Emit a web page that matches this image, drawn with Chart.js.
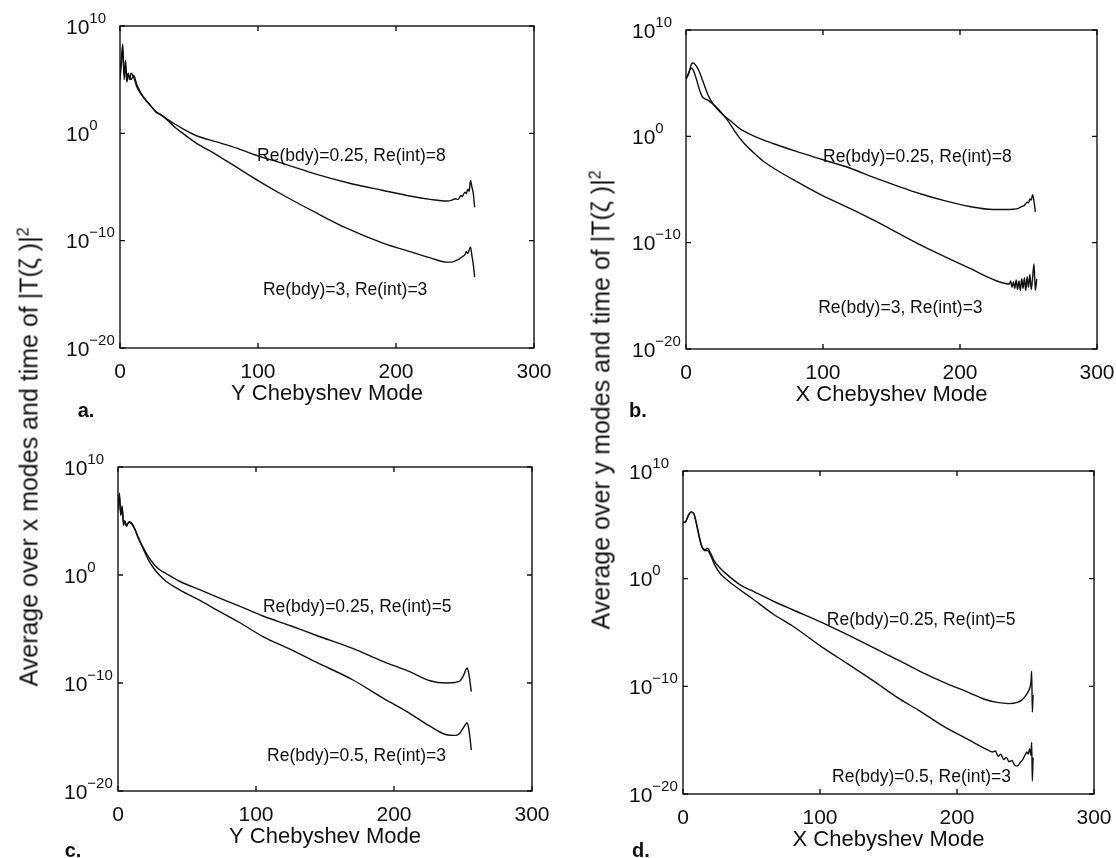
<!DOCTYPE html>
<html>
<head>
<meta charset="utf-8">
<script src="https://cdn.jsdelivr.net/npm/chart.js@4.4.0/dist/chart.umd.min.js"></script>
<style>
html,body{margin:0;padding:0;background:#fff;}
#wrap{position:relative;width:1116px;height:858px;overflow:hidden;background:#fff;}
canvas.panel{position:absolute;left:0;top:0;}
.ytitle{position:absolute;white-space:nowrap;font-family:'Liberation Sans',Arial,Helvetica,sans-serif;font-size:25px;color:#111;transform:translate(-50%,-50%) rotate(-90deg);}
.ytitle sup{font-size:16px;vertical-align:9px;line-height:0;}
.letter{position:absolute;font-family:'Liberation Sans',Arial,sans-serif;font-weight:bold;font-size:20px;color:#111;transform:translate(-50%,-50%);}
</style>
</head>
<body>
<div id="wrap">
<canvas id="ca" class="panel" width="1116" height="858"></canvas>
<canvas id="cb" class="panel" width="1116" height="858"></canvas>
<canvas id="cc" class="panel" width="1116" height="858"></canvas>
<canvas id="cd" class="panel" width="1116" height="858"></canvas>
<div class="ytitle" style="left:29px;top:457px;">Average over x modes and time of |T(ζ )|<sup>2</sup></div>
<div class="ytitle" style="left:601px;top:400px;">Average over y modes and time of |T(ζ )|<sup>2</sup></div>
<div class="letter" style="left:86px;top:410px;">a.</div>
<div class="letter" style="left:638px;top:410px;">b.</div>
<div class="letter" style="left:73px;top:850px;">c.</div>
<div class="letter" style="left:641px;top:850px;">d.</div>
</div>
<script>
// ---------- tick labels ----------
const xTickValues = [0, 100, 200, 300];
const yTickValues = [1e-20, 1e-10, 1, 1e10];
const yTickBase = '10';
const yTickExponents = ['\u221220', '\u221210', '0', '10'];
const xTitleA = 'Y Chebyshev Mode';
const xTitleB = 'X Chebyshev Mode';

// ---------- panel a ----------
const aUpperModes = [0,1,2,3,4,5,6,7,8,10,12,15,18,22,26,30,35,40,46,55,70,85,100,120,142,165,190,212,225,237,240,243,245,247,248,249,250,251,252,253,254,255,256,257];
const aUpperValues = [3.2e5,1e7,2e8,1e5,6.3e6,1.6e5,4e5,1e5,4e5,1.6e5,2.5e4,5e3,1.6e3,400,100,50,18,7,2.5,0.63,0.16,4e-2,8e-3,1.3e-3,1.6e-4,2.5e-5,5e-6,1.3e-6,7e-7,5e-7,5.6e-7,8e-7,7e-7,1.6e-6,1.3e-6,2.2e-6,3.2e-6,2.5e-6,6.3e-6,4e-6,4e-5,1e-5,2.5e-6,1.3e-7];
const aLowerModes = [0,1,2,3,4,5,6,8,10,12,15,18,22,26,30,35,40,46,55,70,85,100,120,142,165,190,212,225,237,240,243,246,248,250,251,252,253,254,255,256,257];
const aLowerValues = [1e5,3.2e6,6.3e7,3.2e5,1e6,6.3e4,2.5e5,1e5,2.5e5,4e4,6.3e3,1.6e3,400,100,50,14,3.5,0.9,0.13,1e-2,6.3e-4,4e-5,1.3e-6,4e-8,1.3e-9,6.3e-11,8e-12,2.5e-12,1e-12,1e-12,1.3e-12,2e-12,3.2e-12,5e-12,1e-11,6.3e-12,1.3e-11,2.5e-11,4e-12,6.3e-13,4e-14];
const aUpperLabel = 'Re(bdy)=0.25, Re(int)=8';
const aLowerLabel = 'Re(bdy)=3, Re(int)=3';

// ---------- panel b ----------
const bUpperModes = [0,1,2,3,4,5,6,8,10,12,14,16,18,20,24,28,32,39,50,64,80,100,120,137,171,190,207,224,232,239,243,245,247,249,250,251,252,253,254,255];
const bUpperValues = [4e5,5e5,8e5,2.5e6,6.3e6,8e6,7e6,3.2e6,1e6,2e5,4e4,8e3,2.5e3,1e3,250,80,32,5.6,1,0.2,4e-2,6.3e-3,1e-3,1.4e-4,4e-6,8e-7,2.5e-7,1.3e-7,1.3e-7,1.4e-7,1.8e-7,2.5e-7,3.2e-7,6.3e-7,5.6e-7,1.3e-6,1e-6,3.2e-6,8e-7,8e-8];
const bLowerModes = [0,1,2,3,4,5,6,8,10,12,14,16,18,20,24,28,32,36,42,49,56,64,80,100,120,137,171,207,227,236,237,238,239,240,241,242,243,244,245,246,247,248,249,250,251,252,253,254,255,256];
const bLowerValues = [2.5e5,4e5,1e6,2e6,2.5e6,2e6,1e6,1.6e5,2e4,5e3,3.2e3,2.5e3,1.6e3,1e3,320,80,16,2.5,0.25,3.2e-2,5e-3,1e-3,6.3e-5,2.5e-6,1.6e-7,1.3e-8,6.3e-11,4e-13,2.5e-14,1.3e-14,2.5e-14,6.3e-15,2e-14,5e-15,3.2e-14,4e-15,2.5e-14,3.2e-15,4e-14,5e-15,5e-14,3.2e-15,6.3e-14,6.3e-15,1e-13,4e-15,5e-14,1e-12,3.2e-15,4e-14];
const bUpperLabel = 'Re(bdy)=0.25, Re(int)=8';
const bLowerLabel = 'Re(bdy)=3, Re(int)=3';

// ---------- panel c ----------
const cUpperModes = [0,1,2,3,4,5,6,8,10,12,15,18,22,26,30,35,45,60,71,88,105,125,144,170,192,210,226,238,244,246,248,249,250,251,252,253,254,255,256];
const cUpperValues = [1e6,4e7,3.2e5,2.5e6,4e4,1e5,3.2e4,8e4,6.3e4,2e4,2.5e3,400,50,10,3.2,1.3,0.25,4e-2,1e-2,1.3e-3,1.6e-4,2e-5,2.5e-6,1.6e-7,1e-8,1.3e-9,1.6e-10,1e-10,1.1e-10,1.3e-10,1.6e-10,2.5e-10,4e-10,8e-10,1.6e-9,2.5e-9,1e-9,1.6e-10,1.6e-11];
const cLowerModes = [0,1,2,3,4,5,6,8,10,12,15,18,22,26,30,35,45,60,71,88,105,125,144,170,192,210,226,238,244,246,248,249,250,251,252,253,254,255,256];
const cLowerValues = [1.6e6,2.5e7,4e5,1.6e6,6.3e4,1e5,4e4,8e4,5e4,2e4,2e3,320,25,4,1,0.25,4e-2,4e-3,6.3e-4,4e-5,2e-6,1.3e-7,8e-9,2e-10,4e-12,2e-13,1e-14,1.6e-15,1.4e-15,1.6e-15,2.5e-15,4e-15,6.3e-15,1e-14,1.6e-14,2e-14,8e-15,1e-15,6.3e-17];
const cUpperLabel = 'Re(bdy)=0.25, Re(int)=5';
const cLowerLabel = 'Re(bdy)=0.5, Re(int)=3';

// ---------- panel d ----------
const dUpperModes = [0,2,4,6,8,10,12,14,16,18,20,23,27,32,42,50,66,80,102,120,139,156,173,190,209,220,229,238,244,247,250,252,253,254,254.5,255,255.5];
const dUpperValues = [1.6e5,2e5,8e5,1.6e6,1e6,1e5,6.3e3,800,500,630,250,40,10,2.5,0.25,8e-2,8e-3,1.3e-3,8e-5,6.3e-6,4e-7,3.2e-8,2.5e-9,2.5e-10,2.5e-11,6.3e-12,3.2e-12,2.5e-12,3.2e-12,5e-12,1.3e-11,3.2e-11,6.3e-11,2.5e-10,2.5e-9,4e-13,1.6e-11];
const dLowerModes = [0,2,4,6,8,10,12,14,16,18,20,23,27,32,40,50,66,80,102,120,139,156,173,190,209,222,226,228,230,232,234,236,238,240,242,244,246,248,250,251,252,253,254,254.5,255,255.5];
const dLowerValues = [1.6e5,2e5,8e5,1.6e6,1e6,1e5,6.3e3,800,400,400,160,20,3.2,0.8,0.13,1.6e-2,5e-4,4e-5,4e-7,1.3e-8,3.2e-10,1e-11,5e-13,2e-14,1e-15,1.3e-16,8e-17,1e-16,3.2e-17,5e-17,1.6e-17,2.5e-17,1e-17,1.3e-17,5e-18,4e-18,8e-18,1.6e-17,5e-17,8e-17,5e-17,1.6e-16,4e-17,6.3e-16,1.6e-19,2.5e-17];
const dUpperLabel = 'Re(bdy)=0.25, Re(int)=5';
const dLowerLabel = 'Re(bdy)=0.5, Re(int)=3';

// ---------- layout / style (not data) ----------
const FONT = "'Liberation Sans', Arial, Helvetica, sans-serif";
const INK = '#111';
const Y_W = 60, X_H = 63, CW = 1116, CH = 858;

function pts(modes, vals) { return modes.map((m, i) => ({x: m, y: vals[i]})); }

const framePlugin = {
  id: 'frame',
  afterDatasetsDraw(chart, args, opts) {
    const {ctx, chartArea: a, scales: {x, y}} = chart;
    ctx.save();
    ctx.strokeStyle = INK;
    ctx.lineWidth = 1.4;
    ctx.strokeRect(a.left, a.top, a.right - a.left, a.bottom - a.top);
    const TL = 5;
    ctx.beginPath();
    x.ticks.forEach(t => {
      const px = x.getPixelForValue(t.value);
      ctx.moveTo(px, a.bottom); ctx.lineTo(px, a.bottom - TL);
      ctx.moveTo(px, a.top); ctx.lineTo(px, a.top + TL);
    });
    y.ticks.forEach(t => {
      const py = y.getPixelForValue(t.value);
      ctx.moveTo(a.left, py); ctx.lineTo(a.left + TL, py);
      ctx.moveTo(a.right, py); ctx.lineTo(a.right - TL, py);
    });
    ctx.stroke();
    // y tick labels: 10 with superscript exponent
    ctx.fillStyle = INK;
    ctx.textBaseline = 'alphabetic';
    ctx.textAlign = 'left';
    yTickValues.forEach((v, i) => {
      const py = y.getPixelForValue(v);
      const lx = a.left - 54;
      ctx.font = '21px ' + FONT;
      ctx.fillText(yTickBase, lx, py + 7.5);
      const w = ctx.measureText(yTickBase).width;
      ctx.font = '15px ' + FONT;
      ctx.fillText(yTickExponents[i], lx + w, py - 3.5);
    });
    // curve labels
    ctx.font = '17.5px ' + FONT;
    ctx.textBaseline = 'middle';
    (opts.labels || []).forEach(l => {
      ctx.fillText(l.text, x.getPixelForValue(l.mode), y.getPixelForValue(l.value));
    });
    ctx.restore();
  }
};

function makePanel(id, area, xTitle, series, labels) {
  const ctx = document.getElementById(id).getContext('2d');
  return new Chart(ctx, {
    type: 'line',
    data: {
      datasets: series.map(s => ({
        data: pts(s.modes, s.values),
        borderColor: INK,
        borderWidth: 1.4,
        pointRadius: 0,
        fill: false,
        cubicInterpolationMode: 'monotone'
      }))
    },
    options: {
      responsive: false,
      animation: false,
      devicePixelRatio: 1,
      layout: {padding: {left: area.left - Y_W, top: area.top, right: CW - area.right, bottom: CH - area.bottom - X_H}},
      plugins: {legend: {display: false}, tooltip: {enabled: false}, frame: {labels: labels}},
      scales: {
        x: {
          type: 'linear', min: 0, max: 300,
          afterBuildTicks: s => { s.ticks = xTickValues.map(v => ({value: v})); },
          afterFit: s => { s.height = X_H; s.paddingLeft = 0; s.paddingRight = 0; },
          grid: {display: false},
          border: {display: false},
          ticks: {color: INK, font: {family: FONT, size: 21}, padding: 4, maxRotation: 0, autoSkip: false},
          title: {display: true, text: xTitle, color: INK, font: {family: FONT, size: 22}, padding: {top: 0, bottom: 4}}
        },
        y: {
          type: 'logarithmic', min: 1e-20, max: 1e10,
          afterBuildTicks: s => { s.ticks = yTickValues.map(v => ({value: v})); },
          afterFit: s => { s.width = Y_W; s.paddingTop = 0; s.paddingBottom = 0; },
          grid: {display: false},
          border: {display: false},
          ticks: {display: false}
        }
      }
    },
    plugins: [framePlugin]
  });
}

makePanel('ca', {left: 120, top: 26, right: 534, bottom: 348}, xTitleA,
  [{modes: aUpperModes, values: aUpperValues}, {modes: aLowerModes, values: aLowerValues}],
  [{text: aUpperLabel, mode: 99.3, value: 8e-3}, {text: aLowerLabel, mode: 103.6, value: 2.5e-15}]);
makePanel('cb', {left: 686, top: 30, right: 1097, bottom: 349}, xTitleB,
  [{modes: bUpperModes, values: bUpperValues}, {modes: bLowerModes, values: bLowerValues}],
  [{text: bUpperLabel, mode: 100, value: 1.1e-2}, {text: bLowerLabel, mode: 96.5, value: 6.3e-17}]);
makePanel('cc', {left: 118, top: 467, right: 532, bottom: 791}, xTitleA,
  [{modes: cUpperModes, values: cUpperValues}, {modes: cLowerModes, values: cLowerValues}],
  [{text: cUpperLabel, mode: 105, value: 1e-3}, {text: cLowerLabel, mode: 108, value: 1.6e-17}]);
makePanel('cd', {left: 683, top: 471, right: 1094, bottom: 794}, xTitleB,
  [{modes: dUpperModes, values: dUpperValues}, {modes: dLowerModes, values: dLowerValues}],
  [{text: dUpperLabel, mode: 105, value: 1.26e-4}, {text: dLowerLabel, mode: 108.8, value: 4e-19}]);
</script>
</body>
</html>
